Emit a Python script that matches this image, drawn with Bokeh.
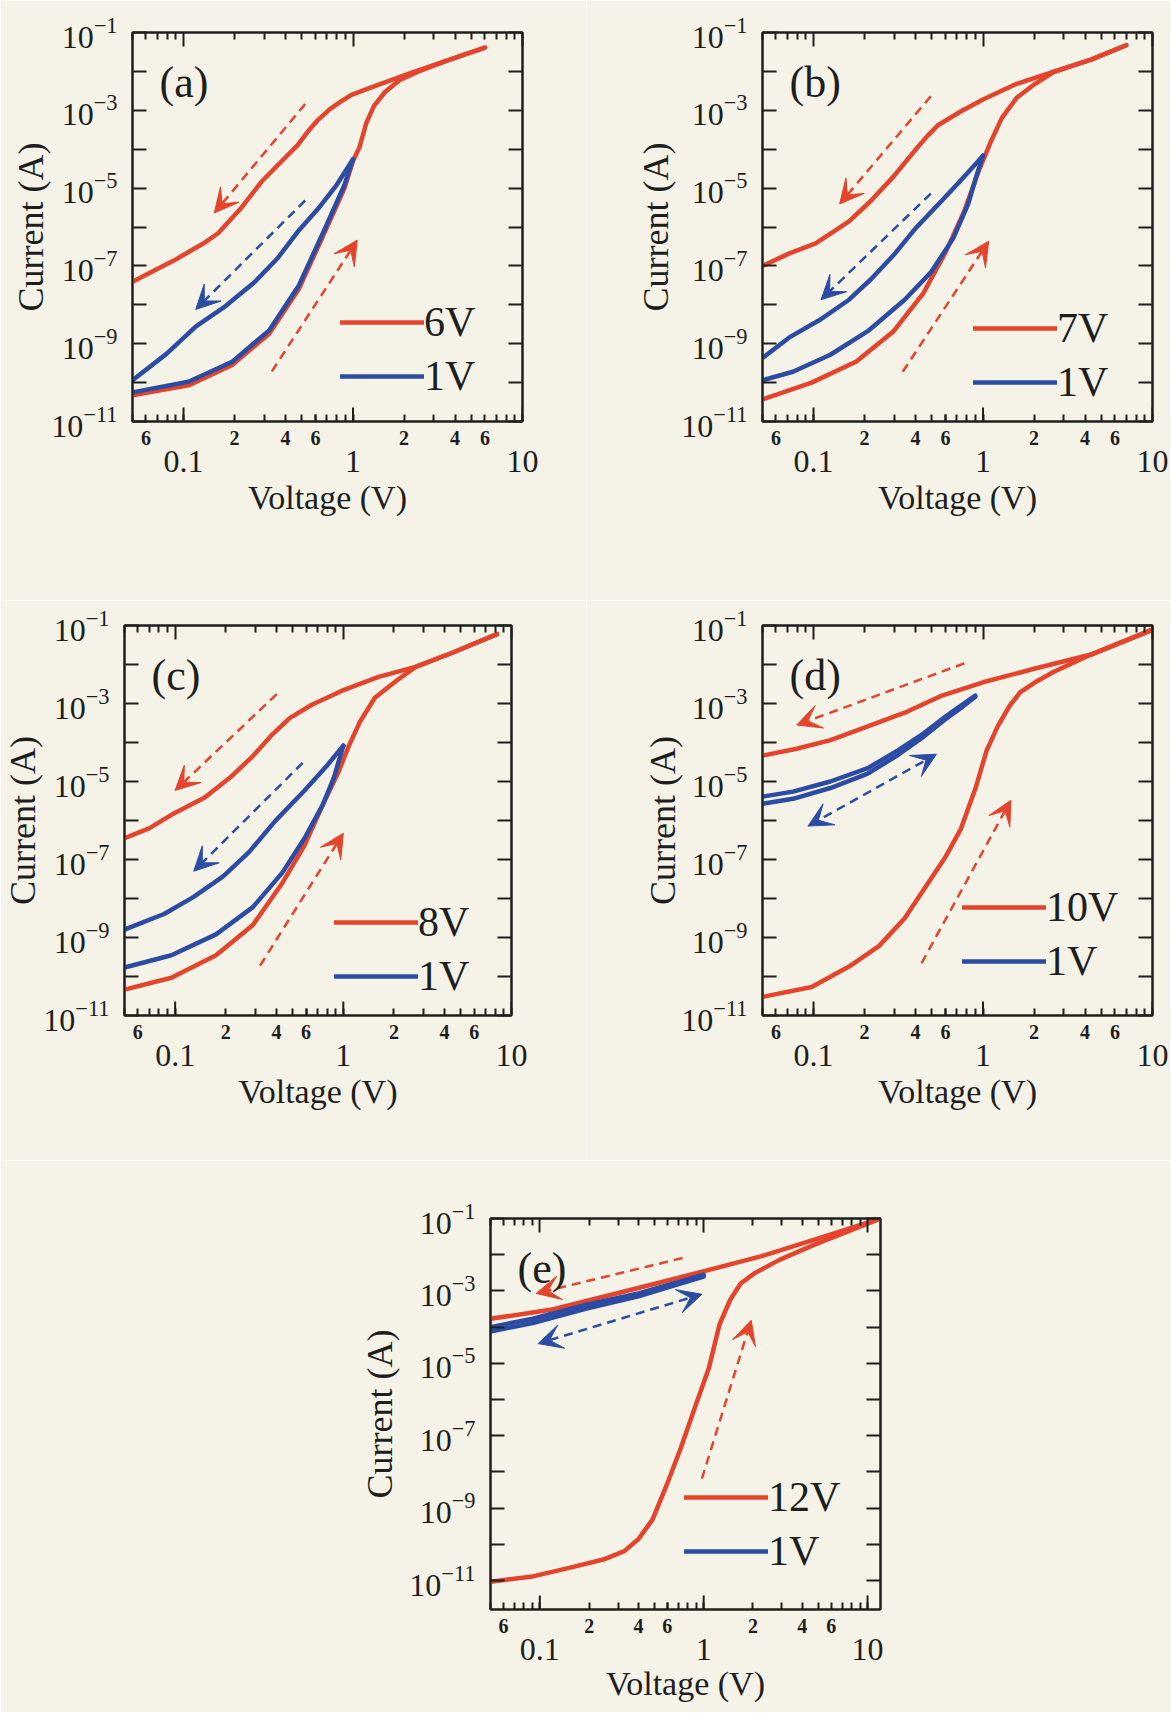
import numpy as np
from bokeh.plotting import figure
from bokeh.models import (LogAxis, FixedTicker, Label, Arrow, VeeHead, Legend,
                          LegendItem, Range1d, CustomJSTickFormatter, LogTickFormatter)
from bokeh.layouts import column, row
from bokeh.embed import file_html
from bokeh.resources import INLINE

RED = "#e4432c"
BLUE = "#2b4ca2"
BG = "#f5f3e7"
INK = "#1e1e1e"
FONT = "Liberation Serif"

# ---------------- data (voltage in V, current in A) ----------------
# (a) 6V / 1V
a_red_fwd_V = [0.05, 0.107, 0.195, 0.32, 0.48, 0.69, 0.89, 1.0, 1.09, 1.2, 1.33, 1.55, 1.89, 2.44, 3.65, 6.0]
a_red_fwd_I = [4.7e-11, 8.5e-11, 2.9e-10, 1.8e-9, 2.6e-8, 8.3e-7, 9.8e-6, 5.0e-5, 1.1e-4, 4.8e-4, 1.3e-3, 3.0e-3, 6.0e-3, 1.0e-2, 1.95e-2, 4.1e-2]
a_red_rev_V = [6.0, 3.65, 2.2, 1.33, 0.98, 0.85, 0.73, 0.62, 0.54, 0.47, 0.40, 0.29, 0.216, 0.160, 0.130, 0.087, 0.05]
a_red_rev_I = [4.1e-2, 1.95e-2, 9.1e-3, 4.1e-3, 2.5e-3, 1.7e-3, 1.07e-3, 5.6e-4, 2.8e-4, 1.26e-4, 6.2e-5, 1.5e-5, 2.9e-6, 6.9e-7, 3.7e-7, 1.35e-7, 3.9e-8]
a_blue_fwd_V = [0.05, 0.107, 0.195, 0.32, 0.48, 0.69, 0.89, 1.0]
a_blue_fwd_I = [5.6e-11, 1.05e-10, 3.5e-10, 2.2e-9, 3.2e-8, 1.0e-6, 1.2e-5, 5.5e-5]
a_blue_rev_V = [1.0, 0.80, 0.62, 0.48, 0.36, 0.264, 0.177, 0.118, 0.079, 0.05]
a_blue_rev_I = [5.5e-5, 1.2e-5, 2.9e-6, 8.3e-7, 1.6e-7, 3.9e-8, 9.3e-9, 2.75e-9, 5.4e-10, 1.15e-10]

# (b) 7V / 1V
b_red_fwd_V = [0.05, 0.0975, 0.179, 0.297, 0.445, 0.603, 0.776, 0.95, 1.107, 1.29, 1.58, 2.03, 2.62, 4.34, 7.0]
b_red_fwd_I = [3.7e-11, 1.0e-10, 3.5e-10, 2.1e-9, 2.0e-8, 2.3e-7, 2.6e-6, 3.0e-5, 1.5e-4, 6.3e-4, 2.1e-3, 4.8e-3, 9.8e-3, 2.0e-2, 4.7e-2]
b_red_rev_V = [7.0, 4.34, 2.62, 1.58, 1.0, 0.738, 0.545, 0.47, 0.402, 0.297, 0.219, 0.162, 0.103, 0.072, 0.05]
b_red_rev_I = [4.7e-2, 2.0e-2, 9.8e-3, 4.8e-3, 1.9e-3, 9.3e-4, 4.2e-4, 2.2e-4, 1.0e-4, 2.0e-5, 4.8e-6, 1.4e-6, 3.8e-7, 2.1e-7, 1.0e-7]
b_blue_fwd_V = [0.05, 0.0756, 0.1257, 0.209, 0.345, 0.492, 0.667, 0.817, 0.927, 1.0]
b_blue_fwd_I = [1.15e-10, 1.9e-10, 5.2e-10, 2.1e-9, 1.35e-8, 6.8e-8, 5.1e-7, 3.9e-6, 2.5e-5, 6.8e-5]
b_blue_rev_V = [1.0, 0.776, 0.573, 0.402, 0.297, 0.219, 0.162, 0.108, 0.072, 0.05]
b_blue_rev_I = [6.8e-5, 2.0e-5, 4.8e-6, 9.5e-7, 1.9e-7, 4.6e-8, 1.35e-8, 4.0e-9, 1.45e-9, 4.3e-10]

# (c) 8V / 1V
c_red_fwd_V = [0.05, 0.095, 0.175, 0.290, 0.434, 0.588, 0.757, 0.927, 1.08, 1.256, 1.54, 2.08, 2.69, 4.45, 8.2]
c_red_fwd_I = [4.6e-11, 9.3e-11, 3.5e-10, 2.1e-9, 2.5e-8, 2.3e-7, 2.6e-6, 1.6e-5, 8.3e-5, 3.4e-4, 1.4e-3, 3.9e-3, 8.7e-3, 2.0e-2, 6.0e-2]
c_red_rev_V = [8.2, 4.45, 2.69, 1.62, 0.975, 0.650, 0.480, 0.372, 0.290, 0.214, 0.150, 0.095, 0.070, 0.05]
c_red_rev_I = [6.0e-2, 2.0e-2, 8.7e-3, 4.8e-3, 2.1e-3, 9.3e-4, 4.2e-4, 1.5e-4, 4.5e-5, 1.3e-5, 3.9e-6, 1.4e-6, 6.3e-7, 3.5e-7]
c_blue_fwd_V = [0.05, 0.095, 0.175, 0.29, 0.434, 0.588, 0.757, 0.881, 1.0]
c_blue_fwd_I = [1.7e-10, 3.5e-10, 1.2e-9, 6.0e-9, 4.6e-8, 3.5e-7, 2.6e-6, 1.3e-5, 8.3e-5]
c_blue_rev_V = [1.0, 0.796, 0.588, 0.392, 0.275, 0.193, 0.129, 0.086, 0.05]
c_blue_rev_I = [8.3e-5, 2.5e-5, 5.9e-6, 9.5e-7, 1.55e-7, 3.7e-8, 1.1e-8, 4.0e-9, 1.6e-9]

# (d) 10V / 1V
d_red_fwd_V = [0.05, 0.0975, 0.162, 0.243, 0.345, 0.468, 0.603, 0.738, 0.904, 1.05, 1.22, 1.43, 1.66, 2.03, 2.62, 4.34, 10.0]
d_red_fwd_I = [3.0e-11, 5.4e-11, 1.8e-10, 6.0e-10, 3.1e-9, 2.3e-8, 1.2e-7, 5.9e-7, 6.8e-6, 6.2e-5, 2.6e-4, 8.5e-4, 1.95e-3, 3.5e-3, 6.5e-3, 1.8e-2, 7.8e-2]
d_red_rev_V = [10.0, 4.34, 2.03, 1.0, 0.573, 0.345, 0.209, 0.126, 0.0796, 0.05]
d_red_rev_I = [7.8e-2, 1.8e-2, 7.9e-3, 3.5e-3, 1.6e-3, 5.8e-4, 2.6e-4, 1.15e-4, 6.9e-5, 4.6e-5]
d_blue_V = [0.05, 0.0757, 0.1257, 0.209, 0.313, 0.445, 0.603, 0.738, 0.9]
d_blue_fwd_I = [2.7e-6, 3.6e-6, 6.8e-6, 1.6e-5, 4.7e-5, 1.4e-4, 4.0e-4, 7.6e-4, 1.5e-3]
d_blue_rev_I = [4.1e-6, 5.5e-6, 1.0e-5, 2.2e-5, 6.2e-5, 1.7e-4, 4.7e-4, 8.7e-4, 1.6e-3]

# (e) 12V / 1V
e_red_fwd_V = [0.05, 0.0906, 0.149, 0.244, 0.328, 0.40, 0.488, 0.594, 0.724, 0.883, 1.077, 1.25, 1.45, 1.68, 2.05, 2.90, 4.75, 12.0]
e_red_fwd_I = [9.3e-12, 1.3e-11, 2.2e-11, 3.8e-11, 6.5e-11, 1.4e-10, 4.9e-10, 4.3e-9, 4.5e-8, 5.9e-7, 7.6e-6, 1.2e-4, 5.6e-4, 1.6e-3, 3.1e-3, 7.2e-3, 1.9e-2, 1.0e-1]
e_red_rev_V = [12.0, 4.75, 2.26, 1.077, 0.513, 0.244, 0.116, 0.05]
e_red_rev_I = [1.0e-1, 2.6e-2, 9.1e-3, 3.8e-3, 1.6e-3, 6.9e-4, 3.0e-4, 1.7e-4]
e_blue_V = [0.05, 0.0906, 0.19, 0.40, 0.656, 1.0]
e_blue_fwd_I = [7.6e-5, 1.3e-4, 3.2e-4, 7.1e-4, 1.4e-3, 2.5e-3]
e_blue_rev_I = [1.0e-4, 1.7e-4, 4.1e-4, 8.5e-4, 1.6e-3, 2.8e-3]

# sweep-direction arrows: (V_start, I_start, V_end, I_end, colour, double_headed)
a_arrows = [(0.522, 1.45e-3, 0.152, 2.3e-6, "r", False), (0.522, 4.8e-6, 0.118, 7.6e-9, "b", False),
            (0.332, 1.95e-10, 1.06, 4.6e-7, "r", False)]
b_arrows = [(0.492, 2.3e-3, 0.1426, 3.9e-6, "r", False), (0.492, 7.2e-6, 0.1107, 1.35e-8, "b", False),
            (0.336, 1.9e-10, 1.08, 4.3e-7, "r", False)]
c_arrows = [(0.402, 1.74e-3, 0.10, 5.9e-6, "r", False), (0.573, 3.0e-5, 0.129, 5.0e-8, "b", False),
            (0.32, 1.9e-10, 1.0, 4.7e-7, "r", False)]
d_arrows = [(0.776, 1.07e-2, 0.0796, 2.8e-4, "r", False), (0.531, 5.0e-5, 0.0927, 7.2e-7, "b", True),
            (0.434, 2.2e-10, 1.46, 3.3e-6, "r", False)]
e_arrows = [(0.743, 8.1e-3, 0.095, 8.5e-4, "r", False), (0.975, 8.1e-4, 0.0976, 3.5e-5, "b", True),
            (0.975, 6.5e-9, 1.95, 1.55e-4, "r", False)]

panel_letters = ["(a)", "(b)", "(c)", "(d)", "(e)"]
legend_high = ["6V", "7V", "8V", "10V", "12V"]
legend_low = "1V"
x_major_ticks = [0.1, 1, 10]
x_minor_labelled = [0.06, 0.2, 0.4, 0.6, 2, 4, 6]
y_labelled = [1e-1, 1e-3, 1e-5, 1e-7, 1e-9, 1e-11]
y_unlabelled = [1e-2, 1e-4, 1e-6, 1e-8, 1e-10]
x_title = "Voltage (V)"
y_title = "Current (A)"


def minor_positions(lo, hi):
    out = []
    for k in range(-3, 2):
        for m in range(2, 10):
            v = m * 10.0 ** k
            if lo * 0.9999 <= v <= hi * 1.0001:
                out.append(v)
    return out


def bare(ax):
    ax.axis_label = None
    ax.axis_line_color = INK
    ax.axis_line_width = 2
    ax.major_tick_out = 0
    ax.minor_tick_out = 0
    ax.major_tick_line_width = 2
    ax.minor_tick_line_width = 2
    ax.major_tick_line_color = INK
    ax.minor_tick_line_color = INK


def blank_labels(ax):
    ax.formatter = CustomJSTickFormatter(code="return ''")
    ax.major_label_text_font_size = "0px"
    ax.major_label_standoff = 0


def panel(letter, high, red_fwd, red_rev, blue_fwd, blue_rev, arrows, xr, yr,
          W, H, bl, br, bt, bb, leg_xy, ytitle_standoff, xtitle_standoff):
    xs, xe = xr
    ys, ye = yr
    p = figure(width=W, height=H, x_axis_type="log", y_axis_type="log",
               x_range=Range1d(xs, xe), y_range=Range1d(ys, ye),
               output_backend="svg", toolbar_location=None,
               x_axis_location=None, y_axis_location=None,
               min_border_left=bl, min_border_right=br, min_border_top=bt, min_border_bottom=bb,
               background_fill_color=BG, border_fill_color=BG,
               outline_line_color=INK, outline_line_width=2)
    p.grid.visible = False
    minors = minor_positions(xs, xe)

    # --- left axis: labelled odd decades, even decades as (equal length) minor ticks
    ly = LogAxis(ticker=FixedTicker(ticks=y_labelled, minor_ticks=y_unlabelled),
                 formatter=LogTickFormatter())
    bare(ly)
    ly.major_tick_in = 14
    ly.minor_tick_in = 14
    ly.major_label_standoff = 15
    ly.major_label_text_font = FONT
    ly.major_label_text_font_size = "32px"
    ly.major_label_text_color = INK
    ly.axis_label = y_title
    ly.axis_label_text_font = FONT
    ly.axis_label_text_font_size = "36px"
    ly.axis_label_text_font_style = "normal"
    ly.axis_label_text_color = INK
    ly.axis_label_standoff = ytitle_standoff
    p.add_layout(ly, "left")

    # --- right axis: ticks only
    ry = LogAxis(ticker=FixedTicker(ticks=y_labelled + y_unlabelled, minor_ticks=[]))
    bare(ry)
    blank_labels(ry)
    ry.major_tick_in = 14
    ry.minor_tick_line_color = None
    p.add_layout(ry, "right")

    # --- top axis: ticks only
    tx = LogAxis(ticker=FixedTicker(ticks=x_major_ticks, minor_ticks=minors))
    bare(tx)
    blank_labels(tx)
    tx.major_tick_in = 14
    tx.minor_tick_in = 7
    p.add_layout(tx, "above")

    # --- bottom axis 1: small mantissa labels at minor positions
    bx1 = LogAxis(ticker=FixedTicker(ticks=[v for v in x_minor_labelled if xs <= v <= xe],
                                     minor_ticks=[v for v in minors if v not in x_minor_labelled] + x_major_ticks),
                  formatter=CustomJSTickFormatter(
                      code="const e = Math.floor(Math.log10(tick) + 1e-9); return String(Math.round(tick / Math.pow(10, e)));"))
    bare(bx1)
    bx1.major_tick_in = 7
    bx1.minor_tick_in = 7
    bx1.major_label_standoff = 9
    bx1.major_label_text_font = FONT
    bx1.major_label_text_font_size = "20px"
    bx1.major_label_text_font_style = "bold"
    bx1.major_label_text_color = INK
    p.add_layout(bx1, "below")

    # --- bottom axis 2: decade labels and title
    bx2 = LogAxis(ticker=FixedTicker(ticks=x_major_ticks, minor_ticks=[]),
                  formatter=CustomJSTickFormatter(code="return tick >= 1 ? tick.toFixed(0) : String(tick);"))
    bx2.axis_line_color = None
    bx2.major_tick_line_color = None
    bx2.minor_tick_line_color = None
    bx2.major_tick_in = 0
    bx2.major_tick_out = 0
    bx2.major_label_standoff = 3
    bx2.major_label_text_font = FONT
    bx2.major_label_text_font_size = "32px"
    bx2.major_label_text_color = INK
    bx2.axis_label = x_title
    bx2.axis_label_text_font = FONT
    bx2.axis_label_text_font_size = "34px"
    bx2.axis_label_text_font_style = "normal"
    bx2.axis_label_text_color = INK
    bx2.axis_label_standoff = xtitle_standoff
    p.add_layout(bx2, "below")

    # longer decade ticks on the bottom edge (half of each mark is clipped by the frame)
    p.scatter(x_major_ticks, [ys] * len(x_major_ticks), marker="dash", angle=np.pi / 2,
              size=28, line_color=INK, line_width=2)

    kw = dict(line_width=4.5, line_cap="round", line_join="round")
    r_red = p.line(red_fwd[0], red_fwd[1], color=RED, **kw)
    p.line(red_rev[0], red_rev[1], color=RED, **kw)
    r_blue = p.line(blue_fwd[0], blue_fwd[1], color=BLUE, **kw)
    p.line(blue_rev[0], blue_rev[1], color=BLUE, **kw)

    for (x0, y0, x1, y1, c, dbl) in arrows:
        col = RED if c == "r" else BLUE
        p.add_layout(Arrow(x_start=x0, y_start=y0, x_end=x1, y_end=y1, line_color=col,
                           line_width=2.5, line_dash="9 6",
                           end=VeeHead(size=24, fill_color=col, line_color=col, line_width=1),
                           start=VeeHead(size=24, fill_color=col, line_color=col, line_width=1) if dbl else None))

    p.add_layout(Label(x=xs, y=ye, x_offset=27, y_offset=-50, text=letter, text_font=FONT,
                       text_font_size="44px", text_color=INK, text_align="left",
                       text_baseline="middle"))

    leg = Legend(items=[LegendItem(label=high, renderers=[r_red]),
                        LegendItem(label=legend_low, renderers=[r_blue])],
                 location=leg_xy, glyph_width=84, glyph_height=44, label_height=44,
                 label_width=10, label_standoff=0, spacing=6, padding=0, margin=0,
                 border_line_color=None, background_fill_alpha=0,
                 label_text_font=FONT, label_text_font_size="42px", label_text_color=INK)
    p.add_layout(leg)
    return p


pa = panel(panel_letters[0], legend_high[0], (a_red_fwd_V, a_red_fwd_I), (a_red_rev_V, a_red_rev_I),
           (a_blue_fwd_V, a_blue_fwd_I), (a_blue_rev_V, a_blue_rev_I), a_arrows,
           (0.05, 10), (1e-11, 1e-1), 586, 600, 132, 64, 30, 179, (208, 21), -3, 4)
pb = panel(panel_letters[1], legend_high[1], (b_red_fwd_V, b_red_fwd_I), (b_red_rev_V, b_red_rev_I),
           (b_blue_fwd_V, b_blue_fwd_I), (b_blue_rev_V, b_blue_rev_I), b_arrows,
           (0.05, 10), (1e-11, 1e-1), 584, 600, 176, 18, 32, 177, (211, 15), 2, 4)
pc = panel(panel_letters[2], legend_high[2], (c_red_fwd_V, c_red_fwd_I), (c_red_rev_V, c_red_rev_I),
           (c_blue_fwd_V, c_blue_fwd_I), (c_blue_rev_V, c_blue_rev_I), c_arrows,
           (0.05, 10), (1e-11, 1e-1), 586, 560, 121, 75, 24, 145, (210, 15), -3, 4)
pd_ = panel(panel_letters[3], legend_high[3], (d_red_fwd_V, d_red_fwd_I), (d_red_rev_V, d_red_rev_I),
            (d_blue_V, d_blue_fwd_I), (d_blue_V, d_blue_rev_I), d_arrows,
            (0.05, 10), (1e-11, 1e-1), 584, 560, 176, 18, 25, 144, (200, 30), -5, 4)
pe = panel(panel_letters[4], legend_high[4], (e_red_fwd_V, e_red_fwd_I), (e_red_rev_V, e_red_rev_I),
           (e_blue_V, e_blue_fwd_I), (e_blue_V, e_blue_rev_I), e_arrows,
           (0.05, 12), (10 ** -11.8, 1e-1), 1170, 552, 490, 290, 58, 103, (194, 34), 6, 2)

layout = column(row(pa, pb), row(pc, pd_), pe)
open("out.html", "w").write(file_html(layout, INLINE))
